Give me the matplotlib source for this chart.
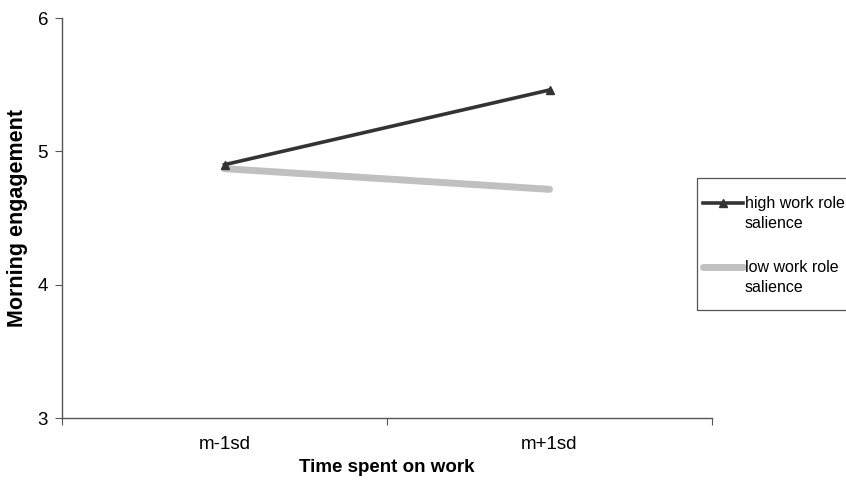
import matplotlib.pyplot as plt
from matplotlib.lines import Line2D
from matplotlib.patches import Rectangle

plt.rcParams['font.family'] = ['Liberation Sans', 'DejaVu Sans']

# data
categories = ['m-1sd', 'm+1sd']
high_salience = [4.90, 5.46]
low_salience = [4.87, 4.715]
series_labels = ['high work role\nsalience', 'low work role\nsalience']

W, H = 846, 482
fig = plt.figure(figsize=(W / 100, H / 100), dpi=100)
ax = fig.add_axes([62 / W, 64 / H, 650 / W, 400 / H])

high_style = dict(color='#333333', lw=2.6, marker='^', ms=6,
                  markerfacecolor='#333333')
low_style = dict(color='#c0c0c0', lw=5, solid_capstyle='round')

x = list(range(len(categories)))
ax.plot(x, high_salience, zorder=3, **high_style)
ax.plot(x, low_salience, zorder=2, **low_style)

ax.set_xlim(-0.5, len(categories) - 0.5)
ax.set_ylim(3, 6)
ax.set_yticks([3, 4, 5, 6])
ax.set_xticks([-0.5, 0.5, 1.5])
ax.set_xticklabels([])
ax.set_xticks(x, minor=True)
ax.set_xticklabels(categories, minor=True)
ax.tick_params(axis='x', which='minor', length=0, pad=13, labelsize=13.5)
ax.tick_params(axis='x', which='major', length=5, color='#555555')
ax.tick_params(axis='y', length=5, color='#555555', labelsize=13.5, pad=5)

for side in ['top', 'right']:
    ax.spines[side].set_visible(False)
for side in ['left', 'bottom']:
    ax.spines[side].set_color('#555555')
    ax.spines[side].set_linewidth(1)

ax.set_xlabel('Time spent on work', fontweight='bold', fontsize=13.5, va='center')
ax.xaxis.set_label_coords(0.5, (418 - 468) / 400)
ax.set_ylabel('Morning engagement', fontweight='bold', fontsize=15.5, va='center')
ax.yaxis.set_label_coords((18 - 62) / 650, 0.5)

# legend drawn by hand so the handle sits on the first text line
fig.patches.append(Rectangle((697 / W, 1 - 310 / H), 160 / W, 132 / H,
                             transform=fig.transFigure, fill=False,
                             edgecolor='#555555', lw=0.9))
entries = [(high_style, series_labels[0], 203), (low_style, series_labels[1], 267)]
for style, label, ypx in entries:
    fig.lines.append(Line2D([703 / W, 723 / W, 743 / W], [1 - ypx / H] * 3,
                            transform=fig.transFigure, markevery=[1], **style))
    fig.text(745 / W, 1 - (ypx - 7) / H, label, fontsize=11.5, va='top',
             ha='left', linespacing=1.45)

fig.savefig('out.png', dpi=100)
